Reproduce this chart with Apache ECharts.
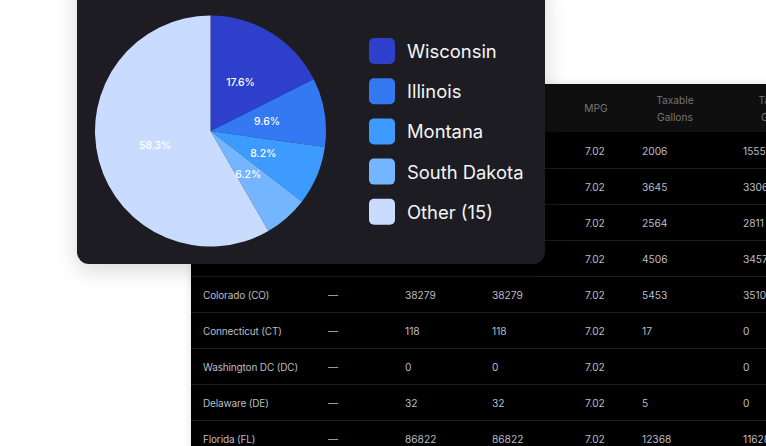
<!DOCTYPE html>
<html>
<head>
<meta charset="utf-8">
<script src="https://cdn.jsdelivr.net/npm/echarts@6/dist/echarts.min.js"></script>
<style>
  html, body { margin: 0; padding: 0; width: 766px; height: 446px; overflow: hidden; background: #fff; font-family: Inter, sans-serif; }
  #table { position: absolute; left: 191px; top: 84px; width: 640px; height: 400px; background: #000; box-shadow: 0 0 8px rgba(0,0,0,.12); }
  #head { position: absolute; left: 0; top: 0; right: 0; height: 48px; background: #0f0f10; }
  .line { position: absolute; left: 0; right: 0; height: 1px; background: #1b1b1d; }
  .cell { position: absolute; font-size: 10.2px; line-height: 14px; color: #bdbdc0; white-space: nowrap; }
  .state { font-size: 10px; letter-spacing: -0.15px; }
  .hcell { position: absolute; font-size: 10.2px; line-height: 17px; color: #747478; text-align: center; white-space: nowrap; transform: translateX(-50%); }
  #card { position: absolute; left: 77px; top: -20px; width: 468px; height: 284px; background: #1c1c22; border-radius: 12px; box-shadow: 0 6px 22px rgba(0,0,0,.16); }
  #chart { position: absolute; left: 0; top: 0; width: 766px; height: 446px; }
</style>
</head>
<body>
<div id="table"><div id="head"></div></div>
<div id="card"></div>
<div id="chart"></div>
<script>
var pieNames = ['Wisconsin', 'Illinois', 'Montana', 'South Dakota', 'Other (15)'];
var pieValues = [17.6, 9.6, 8.2, 6.2, 58.3];
var pieColors = ['#2d3fcb', '#3478f2', '#3d9aff', '#74b5ff', '#c9dcff'];

// rows under the card only show their right hand columns
var states = ['', '', '', '', 'Colorado (CO)', 'Connecticut (CT)', 'Washington DC (DC)', 'Delaware (DE)', 'Florida (FL)'];
var dashes = ['', '', '', '', '—', '—', '—', '—', '—'];
var milesA = ['', '', '', '', '38279', '118', '0', '32', '86822'];
var milesB = ['', '', '', '', '38279', '118', '0', '32', '86822'];
var mpg = ['7.02', '7.02', '7.02', '7.02', '7.02', '7.02', '7.02', '7.02', '7.02'];
var taxable = ['2006', '3645', '2564', '4506', '5453', '17', '', '5', '12368'];
var taxPaid = ['1555', '3306', '2811', '3457', '3510', '0', '0', '0', '11628'];

var table = document.getElementById('table');
var columns = [[states, 12, 'state'], [dashes, 137], [milesA, 214], [milesB, 301], [mpg, 394], [taxable, 451], [taxPaid, 552]];

function addCell(text, x, y, extra) {
  if (!text) return;
  var el = document.createElement('div');
  el.className = extra ? 'cell ' + extra : 'cell';
  el.style.left = x + 'px';
  el.style.top = y + 'px';
  el.textContent = text;
  table.appendChild(el);
}

function addHead(html, x, y) {
  var el = document.createElement('div');
  el.className = 'hcell';
  el.style.left = x + 'px';
  el.style.top = y + 'px';
  el.innerHTML = html;
  table.appendChild(el);
}

addHead('MPG', 405, 16);
addHead('Taxable<br>Gallons', 484, 8);
addHead('Tax Paid<br>Gallons', 588, 8);

for (var r = 0; r < mpg.length; r++) {
  var rowY = 48 + r * 36.1;
  columns.forEach(function (c) {
    addCell(c[0][r], c[1], rowY + 11.5, c[2]);
  });
  var line = document.createElement('div');
  line.className = 'line';
  line.style.top = Math.round(rowY + 35.5) + 'px';
  table.appendChild(line);
}

// pull the inside labels a little toward the centre of the pie
var labelPull = 3.5;
function labelShift(index) {
  var before = 0;
  for (var i = 0; i < index; i++) before += pieValues[i];
  var total = pieValues.reduce(function (a, b) { return a + b; }, 0);
  var angle = (before + pieValues[index] / 2) / total * Math.PI * 2;
  return { dx: -labelPull * Math.sin(angle), dy: labelPull * Math.cos(angle) };
}

var chart = echarts.init(document.getElementById('chart'), null, { renderer: 'svg' });
chart.setOption({
  animation: false,
  backgroundColor: 'transparent',
  color: pieColors,
  legend: {
    show: true,
    orient: 'vertical',
    left: 369,
    top: 38,
    padding: 0,
    itemWidth: 26,
    itemHeight: 26,
    itemGap: 14.2,
    selectedMode: false,
    icon: 'path://M5 0H21A5 5 0 0 1 26 5V21A5 5 0 0 1 21 26H5A5 5 0 0 1 0 21V5A5 5 0 0 1 5 0Z',
    data: pieNames,
    textStyle: {
      color: '#f4f4f6',
      fontFamily: 'Inter',
      fontSize: 18.4,
      padding: [0, 0, 4, 7]
    }
  },
  series: [{
    type: 'pie',
    center: [210.5, 131],
    radius: [0, 115.5],
    startAngle: 90,
    silent: true,
    data: pieNames.map(function (n, i) {
      return { name: n, value: pieValues[i] };
    }),
    label: {
      show: true,
      position: 'inside',
      color: '#fff',
      fontFamily: 'Inter',
      fontSize: 10.4,
      fontWeight: 500,
      formatter: function (p) { return p.value + '%'; }
    },
    labelLayout: function (p) { return labelShift(p.dataIndex); },
    labelLine: { show: false },
    emphasis: { disabled: true }
  }]
});
</script>
</body>
</html>
